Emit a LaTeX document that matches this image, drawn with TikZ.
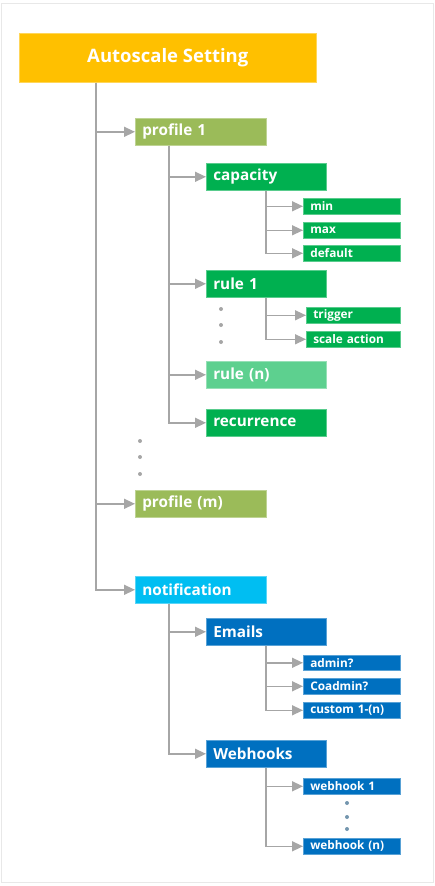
\documentclass[tikz,border=0pt]{standalone}
\usepackage{fontspec}
\setmainfont{Open Sans}
\usetikzlibrary{arrows.meta}
\definecolor{cTitle}{HTML}{FFC000}
\definecolor{cProf}{HTML}{9BBB59}
\definecolor{cGreen}{HTML}{00B050}
\definecolor{cLGreen}{HTML}{5DD08F}
\definecolor{cNotif}{HTML}{00BEF2}
\definecolor{cBlue}{HTML}{0070C0}
\definecolor{cLine}{HTML}{A6A6A6}
\definecolor{cFrame}{HTML}{E8E8E8}
\tikzset{
  base/.style={anchor=north west, text=white, font=\bfseries, inner ysep=0pt, inner xsep=7pt, align=left, draw=#1!65!white, fill=#1, line width=0.6pt},
  titlebox/.style={anchor=north west, text=white, font=\fontsize{18.5}{22}\selectfont\bfseries, fill=cTitle, draw=cTitle!65!white, line width=0.6pt, minimum width=297pt, minimum height=49pt, inner sep=0pt},
  lvtwo/.style={base=#1, minimum width=131pt, text width=117pt, minimum height=27pt, font=\fontsize{15.3}{16}\selectfont\bfseries},
  lvthree/.style={base=#1, minimum width=120pt, text width=106pt, minimum height=27pt, font=\fontsize{15.3}{16}\selectfont\bfseries},
  lvfour/.style={base=#1, minimum width=97pt, text width=83pt, minimum height=16pt, font=\fontsize{11.8}{12}\selectfont\bfseries},
  conn/.style={draw=cLine, line width=1.4pt, -{Triangle[length=11pt,width=10pt]}},
  dotg/.style={fill=#1, draw=none, circle, inner sep=0pt, minimum size=4pt},
}
\begin{document}
\begin{tikzpicture}[x=1pt,y=-1pt]
\useasboundingbox (0,0) rectangle (435,886);
\draw[cFrame, line width=0.8pt] (1.5,3) rectangle (433.5,882);

\node[titlebox] (title) at (19,33) {Autoscale Setting};

\node[lvtwo=cProf] (p1) at (135,118) {profile 1};
\node[lvthree=cGreen] (cap) at (206,163) {capacity};
\node[lvfour=cGreen] (min) at (303,198) {min};
\node[lvfour=cGreen] (max) at (303,222) {max};
\node[lvfour=cGreen] (def) at (303,245) {default};
\node[lvthree=cGreen] (r1) at (206,270) {rule 1};
\node[lvfour=cGreen, minimum width=94pt, text width=80pt] (trig) at (306,307) {trigger};
\node[lvfour=cGreen, minimum width=94pt, text width=80pt] (sact) at (306,331) {scale action};
\node[lvthree=cLGreen] (rn) at (206,361) {rule (n)};
\node[lvthree=cGreen] (rec) at (206,409) {recurrence};
\node[lvtwo=cProf] (pm) at (135,490) {profile (m)};

\node[lvtwo=cNotif] (notif) at (135,576) {notification};
\node[lvthree=cBlue] (em) at (206,618) {Emails};
\node[lvfour=cBlue, minimum height=15pt] (adm) at (303,655) {admin?};
\node[lvfour=cBlue] (coad) at (303,678) {Coadmin?};
\node[lvfour=cBlue] (cust) at (303,702) {custom 1-(n)};
\node[lvthree=cBlue] (wh) at (206,740) {Webhooks};
\node[lvfour=cBlue] (wh1) at (303,778) {webhook 1};
\node[lvfour=cBlue] (whn) at (303,838) {webhook (n)};

% dots
\foreach \y [count=\i] in {309,325,342} \node[dotg=cLine] (da\i) at (221,\y) {};
\foreach \y [count=\i] in {441,457,474} \node[dotg=cLine] (db\i) at (140,\y) {};
\foreach \y [count=\i] in {803,817,829} \node[dotg=cLine!70!cBlue] (dc\i) at (347,\y) {};

% connectors
\coordinate (tA) at ([xshift=77pt]title.south west);
\draw[conn] (tA) |- (p1.west);
\draw[conn] (tA) |- (pm.west);
\draw[conn] (tA) |- (notif.west);

\coordinate (pA) at ([xshift=34pt]p1.south west);
\draw[conn] (pA) |- (cap.west);
\draw[conn] (pA) |- (r1.west);
\draw[conn] (pA) |- (rn.west);
\draw[conn] (pA) |- (rec.west);

\coordinate (cA) at ([xshift=60pt]cap.south west);
\draw[conn] (cA) |- (min.west);
\draw[conn] (cA) |- (max.west);
\draw[conn] (cA) |- (def.west);

\coordinate (rA) at ([xshift=60pt]r1.south west);
\draw[conn] (rA) |- (trig.west);
\draw[conn] (rA) |- (sact.west);

\coordinate (nA) at ([xshift=34pt]notif.south west);
\draw[conn] (nA) |- (em.west);
\draw[conn] (nA) |- (wh.west);

\coordinate (eA) at ([xshift=60pt]em.south west);
\draw[conn] (eA) |- (adm.west);
\draw[conn] (eA) |- (coad.west);
\draw[conn] (eA) |- (cust.west);

\coordinate (wA) at ([xshift=60pt]wh.south west);
\draw[conn] (wA) |- (wh1.west);
\draw[conn] (wA) |- (whn.west);
\end{tikzpicture}
\end{document}
